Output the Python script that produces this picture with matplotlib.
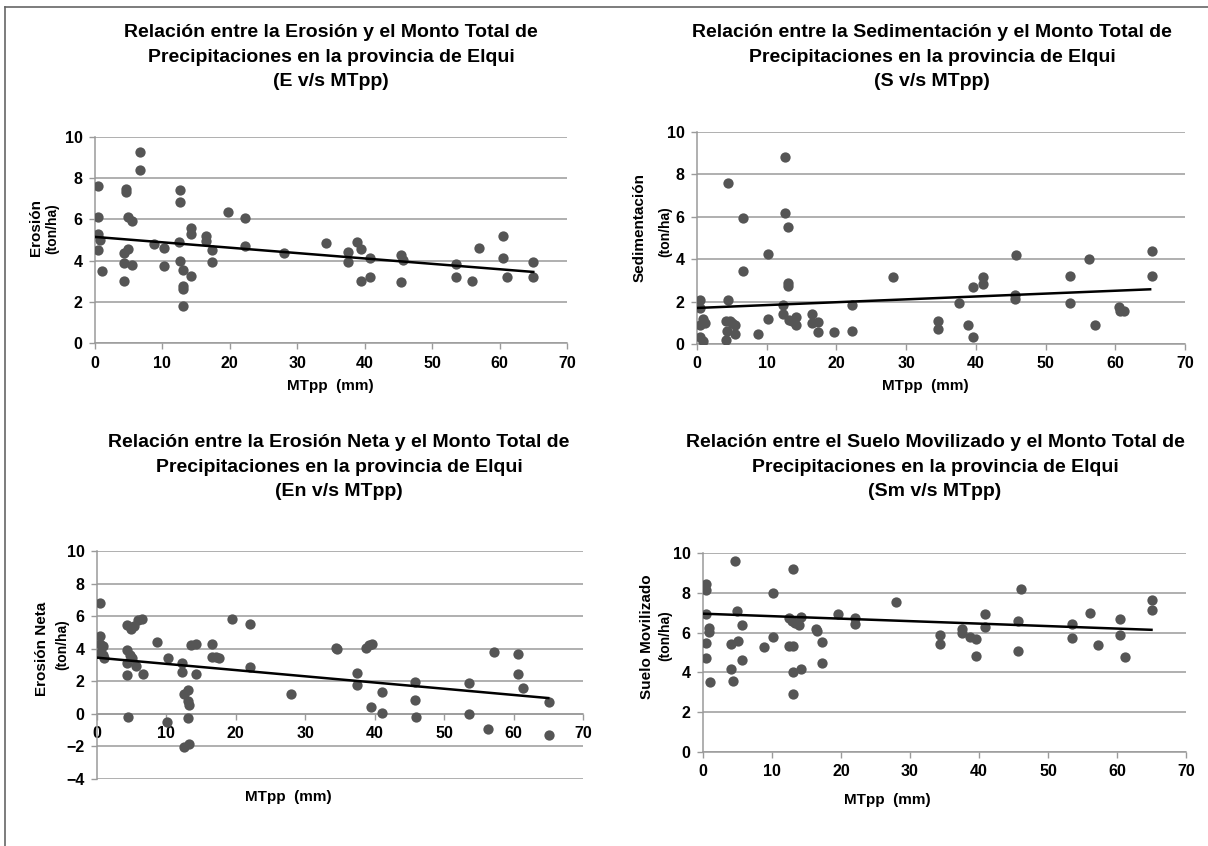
import matplotlib
matplotlib.use("Agg")
import matplotlib.pyplot as plt
from matplotlib.lines import Line2D

plt.rcParams['font.family'] = ['Liberation Sans', 'DejaVu Sans']
plt.rcParams['font.weight'] = 'bold'

# Erosion vs MTpp
e_x = [0.4, 0.4, 0.4, 0.8, 0.4, 1.1, 4.65, 4.65, 4.85, 5.5, 4.85, 4.35, 4.3, 5.5, 4.3,
       6.6, 6.6, 8.8, 10.2, 10.2, 12.6, 12.6, 12.5, 12.6, 13.1, 13.1, 13.1, 13.1, 14.2, 14.2, 14.2,
       16.5, 16.5, 17.3, 17.3, 19.7, 22.2, 22.2, 28.1,
       34.2, 37.5, 37.5, 38.8, 39.4, 40.8, 39.4, 40.8, 45.4, 45.7, 45.4, 53.5, 53.5, 55.9, 57.0,
       60.5, 60.5, 61.1, 65.0, 65.0]
e_y = [7.64, 6.12, 5.3, 5.0, 4.5, 3.48, 7.48, 7.35, 6.1, 5.9, 4.56, 4.37, 3.9, 3.8, 3.0,
       9.29, 8.38, 4.79, 4.6, 3.75, 7.44, 6.86, 4.89, 3.96, 3.56, 2.75, 2.62, 1.81, 3.27, 5.58, 5.3,
       5.2, 4.93, 4.5, 3.95, 6.37, 6.08, 4.69, 4.37,
       4.85, 4.4, 3.92, 4.89, 4.56, 4.14, 3.01, 3.2, 4.29, 4.01, 2.98, 3.82, 3.2, 3.01, 4.61,
       5.18, 4.14, 3.2, 3.95, 3.2]
e_trend = [5.15, 3.45]

# Sedimentacion vs MTpp
s_x = [0.4, 0.4, 0.4, 0.4, 0.8, 0.8, 1.1, 4.4, 4.4, 4.2, 4.7, 4.3, 4.1, 5.0, 5.5, 5.4,
       6.6, 6.6, 8.8, 10.2, 10.2, 12.6, 12.6, 12.4, 12.4, 13.1, 13.1, 13.1, 13.2,
       14.2, 14.2, 13.6, 16.5, 16.5, 17.3, 17.3, 19.7, 22.2, 22.2, 28.1,
       34.5, 34.5, 37.6, 38.9, 39.6, 39.6, 41.0, 41.0, 45.8, 45.6, 45.6, 53.5, 53.5, 56.2, 57.1,
       60.6, 60.7, 61.2, 65.3, 65.3]
s_y = [2.07, 1.7, 0.9, 0.35, 1.2, 0.15, 1.0, 7.6, 2.07, 1.07, 1.07, 0.63, 0.19, 1.0, 0.9, 0.47,
       5.93, 3.45, 0.47, 4.25, 1.18, 8.82, 6.2, 1.85, 1.41, 5.5, 2.9, 2.75, 1.13,
       1.26, 0.9, 1.1, 1.41, 0.97, 1.05, 0.57, 0.57, 1.84, 0.63, 3.14,
       1.07, 0.69, 1.95, 0.88, 2.67, 0.31, 3.15, 2.84, 4.19, 2.3, 2.13, 3.2, 1.95, 4.0, 0.88,
       1.76, 1.57, 1.57, 4.39, 3.2]
s_trend = [1.7, 2.58]

# Erosion neta vs MTpp
n_x = [0.4, 0.4, 0.4, 0.8, 0.4, 0.8, 1.0, 4.3, 4.9, 5.4, 5.9, 6.5,
       4.3, 4.7, 5.1, 4.3, 5.6, 4.3, 6.6, 4.4, 8.7, 10.2, 10.1,
       12.3, 12.3, 12.5, 13.1, 13.1, 13.2, 13.1, 12.6, 13.2, 13.6, 14.2, 14.2,
       16.5, 16.5, 17.2, 17.5, 19.5, 22.0, 22.0, 28.0,
       34.4, 34.5, 38.8, 39.2, 39.6, 37.4, 37.4, 41.0, 39.5, 41.0, 45.8, 45.8, 46.0,
       53.6, 53.6, 56.3, 57.2, 60.6, 60.6, 61.3, 65.1, 65.1]
n_y = [6.79, 4.81, 4.26, 4.16, 3.74, 3.64, 3.44, 5.43, 5.2, 5.4, 5.76, 5.84,
       3.91, 3.64, 3.44, 3.13, 2.96, 2.39, 2.47, -0.2, 4.4, 3.44, -0.53,
       3.13, 2.55, 1.23, 1.44, 0.82, 0.53, -0.27, -2.06, -1.85, 4.24, 4.32, 2.47,
       4.26, 3.5, 3.5, 3.42, 5.84, 5.49, 2.88, 1.19,
       4.05, 4.0, 4.05, 4.2, 4.28, 2.51, 1.77, 1.32, 0.41, 0.04, 1.98, 0.86, -0.21,
       1.89, 0.0, -0.95, 3.79, 3.66, 2.47, 1.6, 0.74, -1.28]
n_trend = [3.45, 0.97]

# Suelo movilizado vs MTpp
m_x = [0.5, 0.5, 0.5, 0.9, 0.9, 0.5, 0.5, 1.0, 4.6, 4.9, 4.0, 5.0, 5.6, 5.6, 4.1, 4.4,
       8.8, 10.2, 10.2, 13.1, 12.4, 12.9, 13.4, 13.9, 14.2, 12.4, 13.1, 13.0, 14.2, 13.1,
       16.4, 16.5, 17.3, 17.3, 19.6, 22.0, 22.0, 28.0,
       34.4, 34.4, 37.5, 37.5, 38.7, 39.5, 39.5, 40.9, 40.9, 45.7, 46.1, 45.7, 53.5, 53.5,
       56.1, 57.2, 60.4, 60.4, 61.1, 65.1, 65.1]
m_y = [8.46, 8.15, 6.95, 6.21, 6.04, 5.47, 4.7, 3.52, 9.6, 7.08, 5.44, 5.6, 6.38, 4.6, 4.16, 3.59,
       5.27, 7.99, 5.8, 9.19, 6.71, 6.6, 6.5, 6.4, 6.78, 5.34, 5.34, 4.0, 4.16, 2.89,
       6.2, 6.07, 5.54, 4.46, 6.91, 6.74, 6.44, 7.52,
       5.9, 5.44, 6.17, 6.0, 5.77, 5.67, 4.83, 6.95, 6.28, 6.58, 8.19, 5.1, 6.44, 5.74,
       7.01, 5.4, 6.68, 5.9, 4.77, 7.62, 7.15]
m_trend = [6.95, 6.14]

trend_x = [0, 65]

titles = [
    "Relación entre la Erosión y el Monto Total de\nPrecipitaciones en la provincia de Elqui\n(E v/s MTpp)",
    "Relación entre la Sedimentación y el Monto Total de\nPrecipitaciones en la provincia de Elqui\n(S v/s MTpp)",
    "Relación entre la Erosión Neta y el Monto Total de\nPrecipitaciones en la provincia de Elqui\n(En v/s MTpp)",
    "Relación entre el Suelo Movilizado y el Monto Total de\nPrecipitaciones en la provincia de Elqui\n(Sm v/s MTpp)",
]
ylabels = ["Erosión", "Sedimentación", "Erosión Neta", "Suelo Movilizado"]

W, H = 1208, 846
fig = plt.figure(figsize=(W / 100, H / 100), dpi=100)


def px(x, y):
    return x / W, 1 - y / H


def axes_px(l, t, r, b):
    return fig.add_axes([l / W, 1 - b / H, (r - l) / W, (b - t) / H])


grey = "#9a9a9a"

panels = [
    dict(box=(95, 137, 567, 343), x=e_x, y=e_y, tr=e_trend, ylim=(0, 10)),
    dict(box=(697, 132, 1185, 344), x=s_x, y=s_y, tr=s_trend, ylim=(0, 10)),
    dict(box=(97, 551, 583, 779), x=n_x, y=n_y, tr=n_trend, ylim=(-4, 10)),
    dict(box=(703, 553, 1186, 752), x=m_x, y=m_y, tr=m_trend, ylim=(0, 10)),
]

for p in panels:
    ax = axes_px(*p["box"])
    ax.set_xlim(0, 70)
    ax.set_ylim(*p["ylim"])
    ax.set_xticks(range(0, 71, 10))
    ax.set_yticks(range(p["ylim"][0], 11, 2))
    ax.grid(axis='y', color=grey, lw=1.1)
    ax.set_axisbelow(True)
    for s in ['top', 'right']:
        ax.spines[s].set_visible(False)
    for s in ['left', 'bottom']:
        ax.spines[s].set_color(grey)
        ax.spines[s].set_linewidth(1.1)
    if p["ylim"][0] < 0:
        ax.spines['bottom'].set_position(('data', 0))
    ax.tick_params(colors=grey, length=4, width=1, labelcolor='black', labelsize=11.5, pad=5)
    ax.scatter(p["x"], p["y"], s=55, color="#555555", zorder=3, linewidths=0)
    ax.plot(trend_x, p["tr"], color='black', lw=1.8, zorder=4)

# titles
title_pos = [(331, 57), (932, 57), (339, 467), (935, 467)]
for t, (x, y) in zip(titles, title_pos):
    fig.text(*px(x, y), t, ha='center', va='center', fontsize=14,
             multialignment='center', linespacing=1.55)

# y labels
ylab_pos = [((36, 228), (52, 229)), ((640, 228), (665, 232)),
            ((42, 649), (62, 645)), ((647, 637), (665, 636))]
for lab, (p1, p2) in zip(ylabels, ylab_pos):
    fig.text(*px(*p1), lab, rotation=90, ha='center', va='center', fontsize=11)
    fig.text(*px(*p2), "(ton/ha)", rotation=90, ha='center', va='center', fontsize=10)

# x labels
xlab_pos = [(330, 386), (925, 386), (288, 797), (887, 800)]
for x, y in xlab_pos:
    fig.text(*px(x, y), "MTpp  (mm)", ha='center', va='center', fontsize=11)

# frame lines
fig.add_artist(Line2D([5 / W, 5 / W], [0, 1 - 7 / H], color='#666666', lw=1.2))
fig.add_artist(Line2D([5 / W, 1], [1 - 7 / H, 1 - 7 / H], color='#666666', lw=1.2))

fig.savefig("out.png", dpi=100)
